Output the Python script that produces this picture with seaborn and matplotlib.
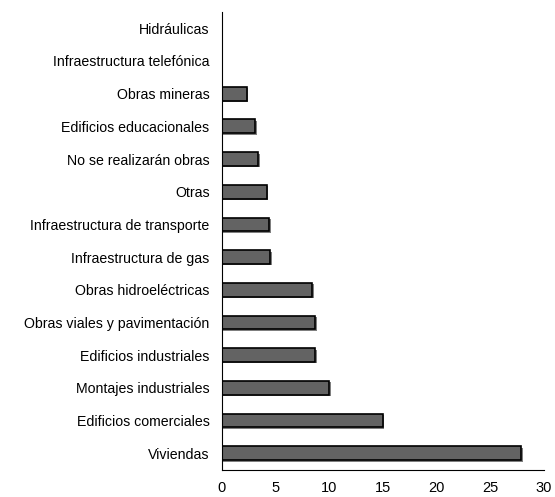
import pandas as pd
import matplotlib.pyplot as plt
import matplotlib.patheffects as pe
import seaborn as sns

# Data (top to bottom)
categorias = [
    'Hidráulicas',
    'Infraestructura telefónica',
    'Obras mineras',
    'Edificios educacionales',
    'No se realizarán obras',
    'Otras',
    'Infraestructura de transporte',
    'Infraestructura de gas',
    'Obras hidroeléctricas',
    'Obras viales y pavimentación',
    'Edificios industriales',
    'Montajes industriales',
    'Edificios comerciales',
    'Viviendas',
]
valores = [0, 0, 2.3, 3.1, 3.4, 4.2, 4.4, 4.5, 8.4, 8.7, 8.7, 10.0, 15.0, 27.9]
x_ticks = [0, 5, 10, 15, 20, 25, 30]

df = pd.DataFrame({'Categoria': categorias, 'Valor': valores})

sns.set_style('white')
plt.rcParams['font.family'] = ['Liberation Sans', 'DejaVu Sans']

fig, ax = plt.subplots(figsize=(5.55, 4.97), dpi=100)
sns.barplot(data=df, x='Valor', y='Categoria', orient='h', order=categorias,
            color='#636363', edgecolor='black', linewidth=1.2, width=0.42,
            saturation=1, ax=ax)

# slight drop shadow like the original spreadsheet bars
for bar in ax.patches:
    bar.set_path_effects([pe.SimplePatchShadow(offset=(1, -1), shadow_rgbFace='black', alpha=0.5),
                          pe.Normal()])

ax.set_xlim(0, 30)
ax.set_ylim(len(categorias) - 0.5, -0.5)
ax.set_xticks(x_ticks)
ax.set_xticklabels([str(t) for t in x_ticks], fontsize=10.5)
ax.tick_params(axis='y', length=0, labelsize=10.2, pad=9, labelcolor='black')
ax.tick_params(axis='x', direction='out', length=4, width=0.8, color='black', pad=4,
               labelcolor='black')
ax.set_xlabel('')
ax.set_ylabel('')

for side in ['top', 'right']:
    ax.spines[side].set_visible(False)
for side in ['left', 'bottom']:
    ax.spines[side].set_color('black')
    ax.spines[side].set_linewidth(0.8)

fig.subplots_adjust(left=0.4, right=0.98, top=0.976, bottom=0.055)
fig.savefig('out.png', dpi=100)
